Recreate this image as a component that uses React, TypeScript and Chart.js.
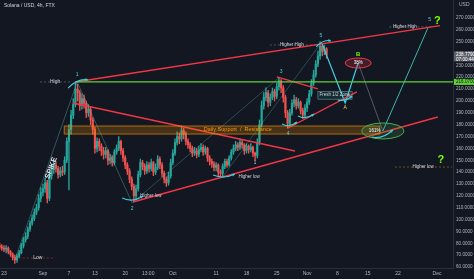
import React, { useEffect, useRef } from "react";
import { Chart, registerables } from "chart.js";

Chart.register(...registerables);

// ---- candle data (12h candles, day 0 = Aug 23) ----
const START_DAY = -1;
const STEP_DAYS = 0.5;
const FIRST_OPEN = 78;
const CLOSES = [
  77, 76, 75, 76, 73, 71, 68, 66, 69, 72, 78, 83, 86, 92, 97, 101, 106, 110, 118, 123,
  126, 131, 118, 137, 142, 146, 143, 138, 141, 140, 150, 166, 176, 188, 197, 210, 207, 196, 202, 198,
  190, 193, 184, 176, 160, 166, 162, 158, 155, 158, 150, 152, 148, 157, 160, 166, 158, 152, 146, 141,
  134, 128, 120, 126, 138, 148, 145, 141, 146, 143, 148, 140, 144, 151, 146, 139, 134, 131, 137, 148,
  156, 165, 170, 168, 175, 172, 166, 163, 160, 156, 158, 155, 159, 161, 157, 160, 152, 149, 147, 144,
  146, 140, 139, 145, 149, 146, 152, 157, 160, 163, 161, 165, 163, 158, 162, 159, 161, 156, 154, 165,
  180, 196, 203, 207, 199, 203, 208, 204, 212, 217, 211, 203, 190, 181, 190, 198, 201, 196, 199, 192,
  188, 194, 199, 206, 215, 222, 231, 238, 246, 242, 244, 238.779,
];
const HIGHS = [
  80, 79, 78, 78, 77, 74, 72, 70, 71, 74, 80, 85, 89, 94, 99, 104, 109, 113, 121, 127,
  130, 135, 133, 140, 146, 150, 149, 145, 144, 145, 153, 169, 180, 192, 202, 216, 214, 209, 206, 205,
  200, 197, 195, 186, 178, 169, 168, 164, 161, 161, 159, 155, 154, 159, 163, 170, 167, 160, 154, 148,
  143, 136, 130, 129, 141, 151, 150, 147, 149, 148, 151, 149, 147, 154, 153, 148, 141, 136, 140, 151,
  159, 168, 174, 173, 179, 177, 174, 168, 165, 162, 161, 160, 162, 164, 163, 162, 161, 154, 151, 149,
  148, 147, 142, 147, 151, 151, 154, 159, 163, 166, 165, 168, 167, 164, 164, 163, 164, 162, 157, 168,
  184, 200, 207, 211, 209, 206, 211, 210, 215, 220, 218, 213, 205, 192, 193, 201, 205, 203, 202, 200,
  194, 197, 202, 209, 218, 226, 234, 242, 250, 248, 247, 245,
];
const LOWS = [
  75, 74, 73, 72, 71, 69, 66, 63, 64, 68, 71, 76, 81, 84, 90, 95, 99, 104, 108, 115,
  120, 123, 114, 116, 134, 139, 140, 135, 136, 137, 138, 148, 125, 172, 185, 195, 200, 192, 193, 194,
  186, 187, 180, 172, 156, 157, 158, 154, 151, 152, 146, 147, 145, 146, 155, 158, 155, 149, 143, 138,
  131, 125, 116, 117, 124, 136, 142, 138, 139, 140, 141, 137, 138, 142, 143, 136, 131, 128, 129, 135,
  146, 154, 163, 164, 166, 168, 163, 160, 157, 153, 154, 152, 153, 157, 154, 155, 149, 146, 144, 141,
  141, 137, 136, 137, 143, 144, 145, 150, 155, 158, 158, 159, 160, 155, 156, 156, 157, 153, 150, 152,
  163, 178, 193, 200, 195, 196, 201, 200, 202, 209, 207, 199, 186, 177, 179, 188, 195, 193, 194, 189,
  185, 186, 191, 197, 204, 213, 220, 229, 235, 238, 239, 236,
];

// ---- axes ----
const X_TICK_DAYS = [0, 9, 15, 21, 28, 33.3, 39, 49, 56, 63, 70, 77, 84, 91, 100];
const X_TICK_LABELS = ["23", "Sep", "7", "13", "20", "13:00", "Oct", "11", "18", "25", "Nov", "8", "15", "22", "Dec"];
const Y_TICKS = [60, 70, 80, 90, 100, 110, 120, 130, 140, 150, 160, 170, 180, 190, 200, 210, 220, 230, 240, 250, 260, 270];
const X_MIN = -0.92;
const X_MAX = 103.7;
const Y_MIN = 59.2;
const Y_MAX = 285.1;
const LAST_PRICE = 238.779;
const LAST_PRICE_TIMER = "07:00:44";
const HIGH_LEVEL = 216.07;

// ---- drawn lines (day, price) ----
const UPPER_RESISTANCE = [[16.4, 216], [100.7, 263.5]];
const HIGH_LINE = [[16.8, HIGH_LEVEL], [104, HIGH_LEVEL]];
const DOWN_TREND = [[15.9, 198.3], [67.2, 157.8]];
const LOWER_SUPPORT = [[29.8, 114.8], [100.2, 186.5]];
const WEDGE_LOW = [[65.6, 177.2], [81.5, 207.6]];
const WEDGE_TOP = [[63, 220.2], [72.5, 210.1]];
const SPIKE_LINE = [[2.5, 65.9], [16.9, 216]];
const HIGH_TO_TWO = [[16.9, 216], [29.6, 114]];
const TWO_TO_THREE = [[29.6, 114], [63.7, 220.2]];
const HL_TO_FIVE = [[50.3, 135], [73.4, 249.7]];
const PROJ_ABC = [[73.4, 248.9], [78.8, 198.3], [81.8, 232]];
const PROJ_BC = [[81.8, 232], [87.5, 174.7]];
const PROJ_UP = [[87.5, 174.7], [97.9, 261.5]];
const HIGH_DASH = [[8.3, 216], [15.7, 216]];
const HH_DASH = [[61.4, 247.2], [72.5, 247.2]];
const HH2_DASH = [[89, 262.4], [98.8, 262.4]];
const HL2_DASH = [[90.3, 144.3], [103.5, 144.3]];
const LOW_DASH = [[2.5, 67.6], [11.8, 67.6]];

// ---- zone / shapes ----
const SUPPORT_ZONE = { d0: 13.9, d1: 86.8, p0: 172.1, p1: 178.9 };
const FRESH_ZONE = { d0: 72.5, d1: 80.4, p0: 201.5, p1: 208 };
const ELLIPSES = [
  { d: 87.5, p: 174.7, rx: 21, ry: 8, stroke: "#4caf50", fill: "rgba(76,175,80,0.18)" },
  { d: 81.8, p: 232, rx: 13, ry: 5, stroke: "#f23645", fill: "rgba(242,54,69,0.22)" },
];
const SWOOSHES = [
  [14.8, 210.9, 19.4, 217.7, -6],
  [27.3, 118.2, 32.1, 119.9, 6],
  [48.3, 137.6, 53.3, 138.4, 5],
  [64.2, 180.6, 67.7, 182.3, 5],
  [67.9, 187.3, 71.6, 189, 5],
  [72.1, 245.5, 75.5, 250.6, -5],
  [77.1, 200.8, 80.4, 204.2, 4],
  [85, 169.6, 89.8, 175.5, 6],
];
// text labels: day, price, text, color, size, weight, rotation(deg)
const LABELS: [number, number, string, string, number, string, number][] = [
  [11.8, 216, "High", "#d1d4dc", 5, "normal", 0],
  [16.9, 222.5, "1", "#4dd0e1", 5, "normal", 0],
  [10.9, 143.5, "SPIKE", "#e0e3eb", 7.5, "bold", -70],
  [29.6, 108.9, "2", "#4dd0e1", 5, "normal", 0],
  [33.9, 119.9, "Higher low", "#d1d4dc", 4.5, "normal", 0],
  [54, 176.2, "Daily Support  /  Resistance", "#ff9800", 5.5, "normal", 0],
  [56.6, 135.9, "Higher low", "#d1d4dc", 4.5, "normal", 0],
  [58, 147.7, "1", "#d1d4dc", 4.5, "normal", 0],
  [64, 224.4, "3", "#4dd0e1", 5, "normal", 0],
  [65.6, 172.1, "4", "#4dd0e1", 5, "normal", 0],
  [66.5, 247.2, "Higher High", "#d1d4dc", 4.5, "normal", 0],
  [73.2, 254.8, "5", "#4dd0e1", 5, "normal", 0],
  [78.8, 194, "A", "#ffd54f", 5, "normal", 0],
  [81.8, 239, "B", "#76ff03", 6, "bold", 0],
  [81.8, 232, "38%", "#ffffff", 4.5, "normal", 0],
  [85.6, 174.7, "161%", "#ffffff", 4.5, "normal", 0],
  [92.6, 262.4, "Higher High", "#d1d4dc", 4.5, "normal", 0],
  [98.3, 268.5, "5", "#4dd0e1", 5, "normal", 0],
  [100.1, 267.2, "?", "#76ff03", 11, "bold", 0],
  [96.8, 144.3, "Higher low", "#d1d4dc", 4.5, "normal", 0],
  [100.9, 150.2, "?", "#76ff03", 11, "bold", 0],
  [7.8, 67.6, "Low", "#d1d4dc", 5, "normal", 0],
  [76.4, 204.8, "Fresh 1/2 Zone", "#d1d4dc", 4.5, "normal", 0],
];

const UP = "#26a69a";
const DOWN = "#ef5350";
const RED = "#f23645";
const FONT = "'Liberation Sans', Arial, sans-serif";

const pts = (arr: number[][]) => arr.map(([x, y]) => ({ x, y }));

function lineDs(arr: number[][], color: string, width: number, dash: number[] = []) {
  return {
    type: "line" as const,
    data: pts(arr),
    borderColor: color,
    borderWidth: width,
    borderDash: dash,
    pointRadius: 0,
    tension: 0,
    fill: false,
    order: 1,
  };
}

const overlay = {
  id: "overlay",
  beforeDraw(chart: any) {
    const ctx = chart.ctx;
    ctx.save();
    ctx.fillStyle = "#131722";
    ctx.fillRect(0, 0, chart.width, chart.height);
    ctx.restore();
  },
  afterDatasetsDraw(chart: any) {
    const { ctx, chartArea } = chart;
    const xs = chart.scales.x;
    const ys = chart.scales.y;
    const X = (d: number) => xs.getPixelForValue(d);
    const Y = (p: number) => ys.getPixelForValue(p);
    ctx.save();
    ctx.beginPath();
    ctx.rect(chartArea.left, chartArea.top, chartArea.right - chartArea.left, chartArea.bottom - chartArea.top);
    ctx.clip();

    // support zone
    const z = SUPPORT_ZONE;
    ctx.fillStyle = "rgba(255,152,0,0.22)";
    ctx.fillRect(X(z.d0), Y(z.p1), X(z.d1) - X(z.d0), Y(z.p0) - Y(z.p1));
    ctx.strokeStyle = "rgba(255,152,0,0.75)";
    ctx.lineWidth = 0.8;
    ctx.strokeRect(X(z.d0), Y(z.p1), X(z.d1) - X(z.d0), Y(z.p0) - Y(z.p1));

    // fresh zone box
    const f = FRESH_ZONE;
    ctx.fillStyle = "rgba(38,166,154,0.15)";
    ctx.fillRect(X(f.d0), Y(f.p1), X(f.d1) - X(f.d0), Y(f.p0) - Y(f.p1));
    ctx.strokeStyle = "rgba(120,180,180,0.8)";
    ctx.lineWidth = 0.6;
    ctx.strokeRect(X(f.d0), Y(f.p1), X(f.d1) - X(f.d0), Y(f.p0) - Y(f.p1));

    // ellipses
    for (const e of ELLIPSES) {
      ctx.beginPath();
      ctx.ellipse(X(e.d), Y(e.p), e.rx, e.ry, 0, 0, Math.PI * 2);
      ctx.fillStyle = e.fill;
      ctx.fill();
      ctx.strokeStyle = e.stroke;
      ctx.lineWidth = 1;
      ctx.stroke();
    }

    // swoosh arrows
    ctx.strokeStyle = "#3fd0e0";
    ctx.fillStyle = "#3fd0e0";
    ctx.lineWidth = 1.1;
    for (const [d0, p0, d1, p1, bend] of SWOOSHES) {
      const x0 = X(d0), y0 = Y(p0), x1 = X(d1), y1 = Y(p1);
      const cx = (x0 + x1) / 2, cy = (y0 + y1) / 2 + bend;
      ctx.beginPath();
      ctx.moveTo(x0, y0);
      ctx.quadraticCurveTo(cx, cy, x1, y1);
      ctx.stroke();
      const ang = Math.atan2(y1 - cy, x1 - cx);
      ctx.beginPath();
      ctx.moveTo(x1, y1);
      ctx.lineTo(x1 - 3 * Math.cos(ang - 0.5), y1 - 3 * Math.sin(ang - 0.5));
      ctx.lineTo(x1 - 3 * Math.cos(ang + 0.5), y1 - 3 * Math.sin(ang + 0.5));
      ctx.closePath();
      ctx.fill();
    }

    // labels
    for (const [d, p, s, color, size, weight, rot] of LABELS) {
      ctx.save();
      ctx.translate(X(d), Y(p));
      ctx.rotate((rot * Math.PI) / 180);
      ctx.font = `${weight} ${size}px ${FONT}`;
      ctx.textAlign = "center";
      ctx.textBaseline = "middle";
      ctx.fillStyle = color;
      ctx.fillText(s, 0, 0);
      ctx.restore();
    }
    ctx.restore();
  },
  afterDraw(chart: any) {
    const { ctx, chartArea } = chart;
    const ys = chart.scales.y;
    const left = chartArea.right;
    const w = chart.width - left;
    ctx.save();
    // title
    ctx.font = `5px ${FONT}`;
    ctx.fillStyle = "#d1d4dc";
    ctx.textAlign = "left";
    ctx.textBaseline = "middle";
    ctx.fillText("Solana / USD, 4h, FTX", 4, 6);
    // currency
    ctx.fillStyle = "#b2b5be";
    ctx.fillText("USD", left + 6, 5);
    // last price tag
    const yl = ys.getPixelForValue(LAST_PRICE);
    ctx.fillStyle = "#5d606b";
    ctx.fillRect(left + 1, yl - 3.5, w - 1, 10);
    ctx.fillStyle = "#ffffff";
    ctx.font = `4.6px ${FONT}`;
    ctx.fillText(LAST_PRICE.toFixed(4), left + 3, yl);
    ctx.fillText(LAST_PRICE_TIMER, left + 3, yl + 4.5);
    // high tag
    const yh = ys.getPixelForValue(HIGH_LEVEL);
    ctx.fillStyle = "#5fd13a";
    ctx.fillRect(left + 1, yh - 3, w - 1, 6);
    ctx.fillStyle = "#0b0e14";
    ctx.fillText(HIGH_LEVEL.toFixed(4), left + 3, yh + 0.3);
    ctx.restore();
  },
};

export default function App() {
  const ref = useRef<HTMLCanvasElement | null>(null);
  useEffect(() => {
    document.body.style.margin = "0";
    document.body.style.background = "#131722";
    const xs = CLOSES.map((_, i) => START_DAY + i * STEP_DAYS);
    const opens = CLOSES.map((c, i) => (i === 0 ? FIRST_OPEN : CLOSES[i - 1]));
    const colors = CLOSES.map((c, i) => (c >= opens[i] ? UP : DOWN));
    const chart = new Chart(ref.current as HTMLCanvasElement, {
      type: "bar",
      data: {
        datasets: [
          {
            type: "bar",
            data: xs.map((x, i) => ({ x, y: [LOWS[i], HIGHS[i]] })) as any,
            backgroundColor: colors,
            barThickness: 0.7,
            grouped: false,
            order: 10,
          } as any,
          {
            type: "bar",
            data: xs.map((x, i) => ({ x, y: [opens[i], CLOSES[i]] })) as any,
            backgroundColor: colors,
            barThickness: 1.5,
            grouped: false,
            order: 9,
          } as any,
          lineDs(SPIKE_LINE, "rgba(90,190,180,0.55)", 0.7),
          lineDs(HIGH_TO_TWO, "rgba(90,190,180,0.55)", 0.7),
          lineDs(TWO_TO_THREE, "rgba(90,190,180,0.45)", 0.7),
          lineDs(HL_TO_FIVE, "rgba(90,190,180,0.45)", 0.7),
          lineDs(HIGH_LINE, "#5fd13a", 1.3),
          lineDs(UPPER_RESISTANCE, RED, 1.4),
          lineDs(DOWN_TREND, RED, 1.4),
          lineDs(LOWER_SUPPORT, RED, 1.4),
          lineDs(WEDGE_LOW, RED, 1.3),
          lineDs(WEDGE_TOP, RED, 1.3),
          lineDs(PROJ_ABC, "#3fd0e0", 1.2),
          lineDs(PROJ_BC, "rgba(180,180,190,0.6)", 0.7),
          lineDs(PROJ_UP, "#3fc8c0", 0.9),
          lineDs(HIGH_DASH, "rgba(200,200,210,0.6)", 0.6, [2, 2]),
          lineDs(HH_DASH, "rgba(200,200,210,0.6)", 0.6, [2, 2]),
          lineDs(HH2_DASH, "rgba(200,200,210,0.6)", 0.6, [2, 2]),
          lineDs(HL2_DASH, "rgba(255,152,0,0.7)", 0.6, [2, 2]),
          lineDs(LOW_DASH, "rgba(239,83,80,0.7)", 0.6, [2, 2]),
        ] as any,
      },
      options: {
        animation: false,
        responsive: false,
        layout: { padding: 0 },
        plugins: { legend: { display: false }, tooltip: { enabled: false } },
        scales: {
          x: {
            type: "linear",
            offset: false,
            min: X_MIN,
            max: X_MAX,
            grid: { display: false, drawTicks: false, offset: false },
            border: { display: true, color: "#2a2e39" },
            afterBuildTicks: (a: any) => {
              a.ticks = X_TICK_DAYS.map((v) => ({ value: v }));
            },
            afterFit: (s: any) => {
              s.height = 11;
              s.paddingLeft = 0;
              s.paddingRight = 0;
            },
            ticks: {
              autoSkip: false,
              maxRotation: 0,
              padding: 3,
              color: "#b2b5be",
              font: { size: 5, family: FONT },
              callback: (v: any) => {
                const i = X_TICK_DAYS.indexOf(Number(v));
                return i >= 0 ? X_TICK_LABELS[i] : "";
              },
            },
          },
          y: {
            type: "linear",
            position: "right",
            min: Y_MIN,
            max: Y_MAX,
            grid: { display: false, drawTicks: false },
            border: { display: true, color: "#2a2e39" },
            afterBuildTicks: (a: any) => {
              a.ticks = Y_TICKS.map((v) => ({ value: v }));
            },
            afterFit: (s: any) => {
              s.width = 21;
              s.paddingTop = 0;
              s.paddingBottom = 0;
            },
            ticks: {
              padding: 3,
              color: "#b2b5be",
              font: { size: 4.6, family: FONT },
              callback: (v: any) => Number(v).toFixed(4),
            },
          },
        },
      },
      plugins: [overlay],
    });
    return () => chart.destroy();
  }, []);
  return <canvas ref={ref} width={474} height={279} style={{ display: "block" }} />;
}
